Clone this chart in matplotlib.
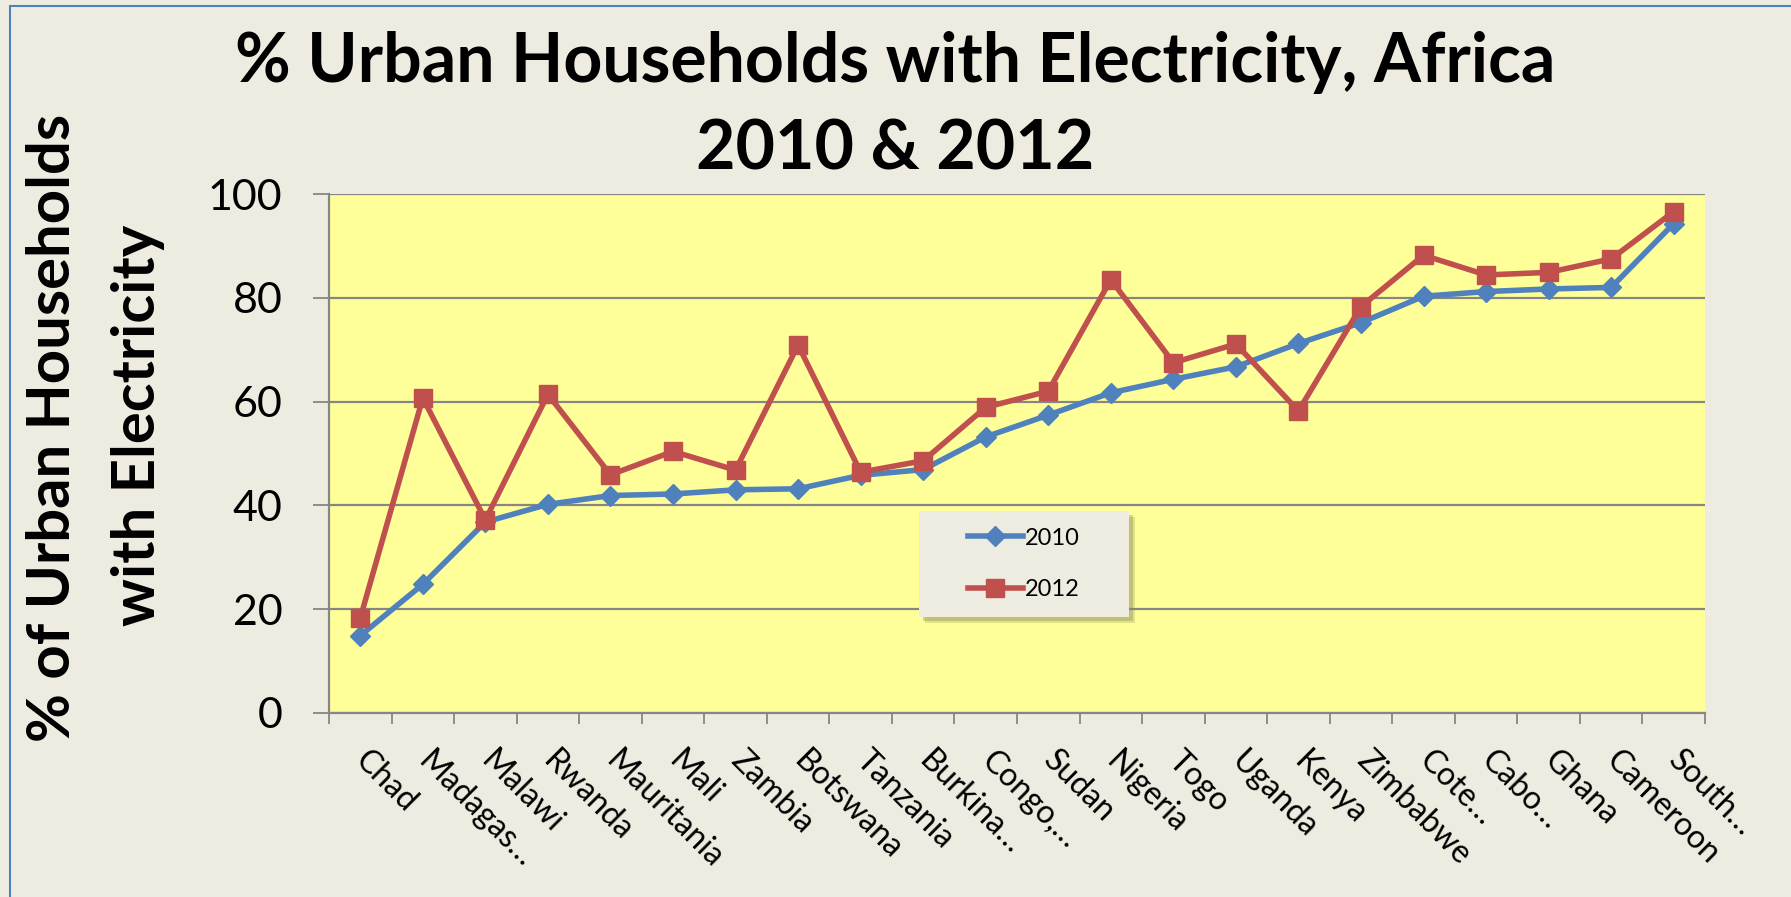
import matplotlib.pyplot as plt
from matplotlib.patches import Rectangle

countries = ["Chad", "Madagas…", "Malawi", "Rwanda", "Mauritania", "Mali", "Zambia",
             "Botswana", "Tanzania", "Burkina…", "Congo,…", "Sudan", "Nigeria", "Togo",
             "Uganda", "Kenya", "Zimbabwe", "Cote…", "Cabo…", "Ghana", "Cameroon", "South…"]
urban_2010 = [14.9, 24.8, 36.8, 40.2, 41.9, 42.2, 43.0, 43.2, 45.8, 46.9, 53.2,
              57.4, 61.7, 64.3, 66.7, 71.2, 75.2, 80.3, 81.2, 81.7, 82.0, 94.3]
urban_2012 = [18.3, 60.7, 37.2, 61.4, 45.9, 50.4, 46.8, 70.9, 46.4, 48.6, 58.9,
              62.0, 83.5, 67.5, 71.1, 58.2, 78.3, 88.2, 84.4, 84.9, 87.5, 96.6]

plt.rcParams['font.family'] = ['Lato', 'DejaVu Sans']

W, H = 1791, 897
BG = '#EEECE1'
GRID = '#868686'
BLUE = '#4F81BD'
RED = '#C0504D'

fig = plt.figure(figsize=(W / 100, H / 100), dpi=100, facecolor=BG)

# thin blue frame round the chart
fig.patches.append(Rectangle((10 / W, -0.1), 1.2, 1.1 - 6 / H, transform=fig.transFigure,
                             fill=False, edgecolor=BLUE, linewidth=1.5))

ax = fig.add_axes([329 / W, 1 - 713 / H, (1705 - 329) / W, (713 - 194) / H])
ax.set_facecolor('#FFFF99')

x = range(len(countries))
ax.plot(x, urban_2010, color=BLUE, lw=4, marker='D', ms=10, mec=BLUE, label='2010', zorder=3)
ax.plot(x, urban_2012, color=RED, lw=4, marker='s', ms=13, mec=RED, label='2012', zorder=4)

ax.set_xlim(-0.5, len(countries) - 0.5)
ax.set_ylim(0, 100)

ax.set_yticks(range(0, 101, 20))
ax.yaxis.grid(True, color=GRID, lw=1.6)
ax.set_axisbelow(True)
ax.tick_params(axis='y', length=11.5, width=1.3, color=GRID, pad=22, labelsize=31)

# category boundaries as major ticks, names on minor ticks at the centres
ax.set_xticks([i - 0.5 for i in range(len(countries) + 1)])
ax.set_xticklabels([])
ax.set_xticks(list(x), minor=True)
ax.set_xticklabels(countries, minor=True, rotation=-45, ha='left', va='center',
                   rotation_mode='anchor', fontsize=23)
ax.tick_params(axis='x', which='major', length=8, width=1.3, color=GRID)
ax.tick_params(axis='x', which='minor', length=0, pad=31)

for side in ['top', 'right']:
    ax.spines[side].set_visible(False)
for side in ['left', 'bottom']:
    ax.spines[side].set_color(GRID)
    ax.spines[side].set_linewidth(1.6)

fig.text(0.5, 1 - 82 / H, '% Urban Households with Electricity, Africa',
         ha='center', va='baseline', fontsize=49, fontweight='bold')
fig.text(0.5, 1 - 170 / H, '2010 & 2012',
         ha='center', va='baseline', fontsize=49, fontweight='bold')

fig.text(53 / W, 1 - 428 / H, '% of Urban Households', rotation=90,
         ha='center', va='center', fontsize=43, fontweight='bold')
fig.text(138 / W, 1 - 425 / H, 'with Electricity', rotation=90,
         ha='center', va='center', fontsize=43, fontweight='bold')

# legend box with a soft drop shadow
bx0, by0, bx1, by1 = 919, 511, 1129, 617
for off, a in [(6, 0.25), (4, 0.35)]:
    fig.patches.append(Rectangle(((bx0 + off) / W, 1 - (by1 + off) / H), (bx1 - bx0) / W,
                                 (by1 - by0) / H, transform=fig.transFigure,
                                 facecolor='#8A8A50', edgecolor='none', alpha=a, zorder=5))
fig.patches.append(Rectangle((bx0 / W, 1 - by1 / H), (bx1 - bx0) / W, (by1 - by0) / H,
                             transform=fig.transFigure, facecolor=BG, edgecolor='none',
                             zorder=6))
leg = ax.legend(loc='center', bbox_to_anchor=((bx0 + bx1) / 2 / W, 1 - (by0 + by1) / 2 / H),
                bbox_transform=fig.transFigure, frameon=False, fontsize=17,
                handlelength=2.3, handletextpad=0.1, labelspacing=1.3)
leg.set_zorder(7)
fig.legends.append(leg)
ax.get_legend().remove()

fig.savefig('out.png', dpi=100, facecolor=BG)
